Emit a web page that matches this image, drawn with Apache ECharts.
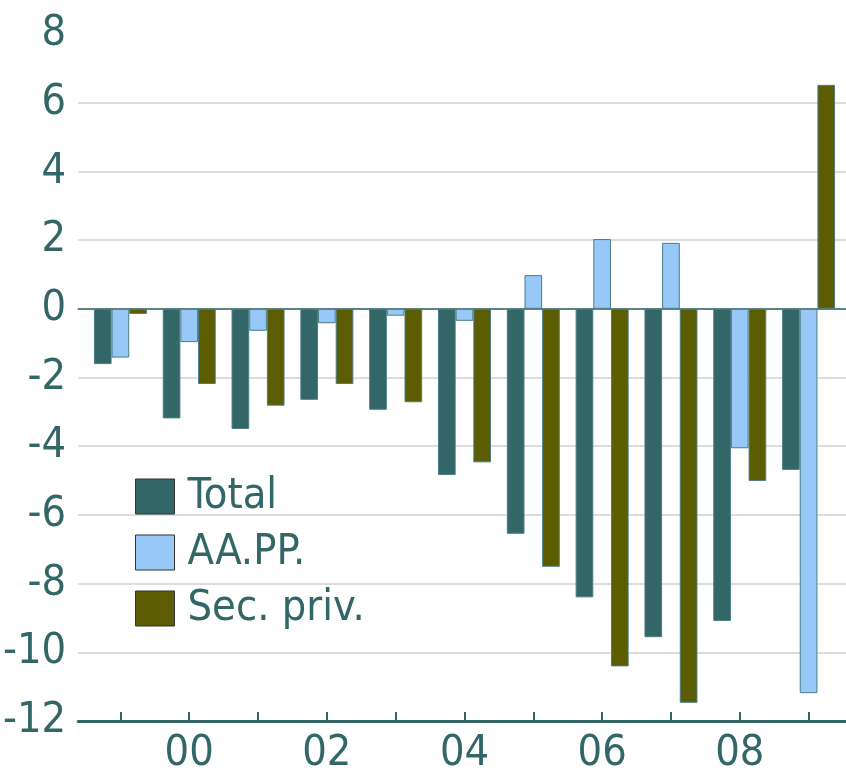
<!DOCTYPE html>
<html>
<head>
<meta charset="utf-8">
<script src="https://cdn.jsdelivr.net/npm/echarts@6/dist/echarts.min.js"></script>
<style>
  html, body { margin: 0; padding: 0; background: #fff; }
  #chart { width: 846px; height: 776px; }
</style>
</head>
<body>
<div id="chart"></div>
<script>
const years = ["99", "00", "01", "02", "03", "04", "05", "06", "07", "08", "09"];
const total = [-1.61, -3.19, -3.5, -2.65, -2.94, -4.84, -6.55, -8.4, -9.56, -9.09, -4.69];
const aapp = [-1.42, -0.97, -0.64, -0.42, -0.2, -0.35, 0.98, 2.03, 1.92, -4.06, -11.19];
const secPriv = [-0.15, -2.19, -2.82, -2.19, -2.72, -4.47, -7.51, -10.41, -11.47, -5.01, 6.52];
const yTicks = [-12, -10, -8, -6, -4, -2, 0, 2, 4, 6, 8];

const teal = "#336666";
const font = "'Liberation Sans Narrow', 'DejaVu Sans Condensed', 'Roboto', sans-serif";

const chart = echarts.init(document.getElementById("chart"));

function barSeries(name, data, color) {
  return {
    name: name,
    type: "bar",
    xAxisIndex: 2,
    yAxisIndex: 1,
    data: data,
    barGap: "0%",
    barCategoryGap: "23%",
    itemStyle: { color: color, borderColor: "#4a7d86", borderWidth: 1 },
  };
}

chart.setOption({
  animation: false,
  backgroundColor: "#fff",
  grid: [
    { left: 77, right: 0, top: 34, bottom: 55 },
    { left: 86, right: 3, top: 34, bottom: 55 },
  ],
  legend: {
    orient: "vertical",
    left: 135,
    top: 475,
    padding: 0,
    itemWidth: 39,
    itemHeight: 35,
    itemGap: 13,
    icon: "rect",
    itemStyle: { borderColor: "#333", borderWidth: 1 },
    textStyle: { fontFamily: font, fontSize: 43, color: teal, lineHeight: 35, padding: [0, 0, 0, 8] },
    data: ["Total", "AA.PP.", "Sec. priv."],
  },
  xAxis: [
    {
      gridIndex: 0, type: "value", min: 0, max: 1,
      axisLine: { onZero: false, lineStyle: { color: teal, width: 3 } },
      axisTick: { show: false }, axisLabel: { show: false }, splitLine: { show: false },
    },
    {
      gridIndex: 0, type: "value", min: 0, max: 1, position: "bottom",
      axisLine: { onZero: true, lineStyle: { color: teal, width: 1.5 } },
      axisTick: { show: false }, axisLabel: { show: false }, splitLine: { show: false },
    },
    {
      gridIndex: 1, type: "category", data: years,
      axisLine: { show: false, onZero: false },
      axisTick: { show: true, inside: true, length: 9, alignWithLabel: true, interval: 0, lineStyle: { color: teal, width: 2 } },
      axisLabel: {
        interval: (i) => i % 2 === 1,
        fontFamily: font, fontSize: 43, color: teal, margin: 11,
      },
    },
  ],
  yAxis: [
    {
      gridIndex: 0, type: "value", min: yTicks[0], max: yTicks[yTicks.length - 1], interval: 2,
      axisLine: { show: false }, axisTick: { show: false },
      axisLabel: { fontFamily: font, fontSize: 43, color: teal, margin: 12, padding: [0, 0, 10, 0] },
      splitLine: { showMaxLine: false, lineStyle: { color: "#dddddd", width: 2 } },
    },
    {
      gridIndex: 1, type: "value", min: yTicks[0], max: yTicks[yTicks.length - 1], interval: 2, show: false,
    },
  ],
  series: [
    barSeries("Total", total, teal),
    barSeries("AA.PP.", aapp, "#97c8f8"),
    barSeries("Sec. priv.", secPriv, "#5c5c00"),
  ],
});
</script>
</body>
</html>
